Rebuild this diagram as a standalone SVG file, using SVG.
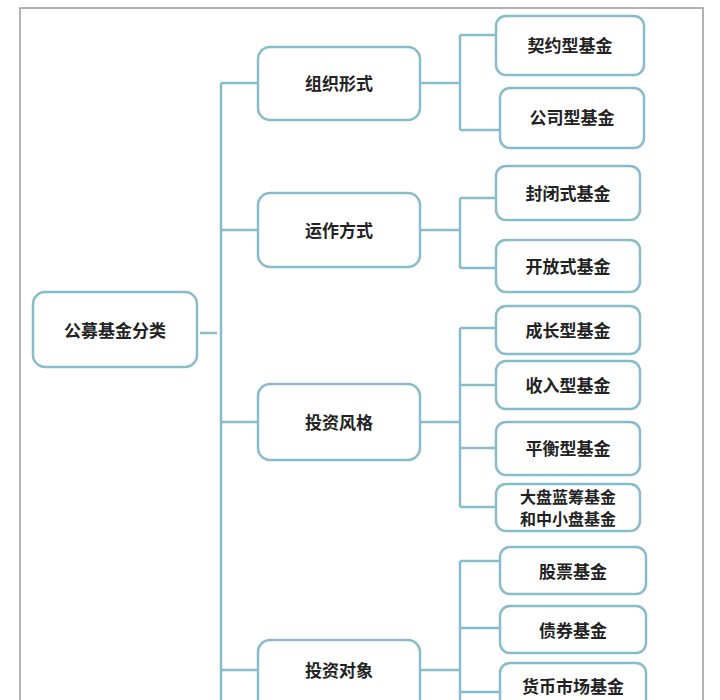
<svg xmlns="http://www.w3.org/2000/svg" width="720" height="700" viewBox="0 0 720 700">
<style>
.n{fill:#fff;stroke:#86bccb;stroke-width:2.5}
.c{fill:none;stroke:#86bccb;stroke-width:2.5}
text{font-family:"Noto Sans CJK SC","Liberation Sans",sans-serif;font-weight:bold;font-size:17px;fill:#222;text-anchor:middle;dominant-baseline:central}
.s{font-size:16px}
</style>
<rect width="720" height="700" fill="#fff"/>
<path d="M20 720V8H703V720" fill="none" stroke="#999" stroke-width="1.5"/>
<g id="connectors">
<path class="c" d="M200 333H217M221 83V710M221 83H258M221 230H258M221 422H258M221 670H258"/>
<path class="c" d="M420 83H460M460 35V130M460 35H496M460 130H500"/>
<path class="c" d="M420 230H460M460 198V268M460 198H496M460 268H496"/>
<path class="c" d="M420 422H460M460 328V507M460 328H496M460 385H496M460 448H496M460 507H496"/>
<path class="c" d="M420 670H460M460 561V710M460 561H500M460 628H500M460 692H500"/>
</g>
<g id="root"><rect class="n" x="33" y="292" width="164" height="75" rx="12"/><text x="115" y="329">公募基金分类</text></g>
<g id="l1a"><rect class="n" x="258" y="47" width="162" height="73" rx="12"/><text x="339" y="82">组织形式</text></g>
<g id="l1b"><rect class="n" x="258" y="193" width="162" height="74" rx="12"/><text x="339" y="229">运作方式</text></g>
<g id="l1c"><rect class="n" x="258" y="384" width="162" height="76" rx="12"/><text x="339" y="421">投资风格</text></g>
<g id="l1d"><rect class="n" x="258" y="640" width="162" height="80" rx="12"/><text x="339" y="669">投资对象</text></g>
<g id="a1"><rect class="n" x="496" y="16" width="148" height="59" rx="10"/><text x="570" y="44">契约型基金</text></g>
<g id="a2"><rect class="n" x="500" y="88" width="144" height="60" rx="10"/><text x="572" y="116">公司型基金</text></g>
<g id="b1"><rect class="n" x="496" y="166" width="144" height="54" rx="10"/><text x="568" y="192">封闭式基金</text></g>
<g id="b2"><rect class="n" x="496" y="240" width="144" height="52" rx="10"/><text x="568" y="265">开放式基金</text></g>
<g id="c1"><rect class="n" x="496" y="306" width="144" height="48" rx="10"/><text x="568" y="329">成长型基金</text></g>
<g id="c2"><rect class="n" x="496" y="361" width="144" height="48" rx="10"/><text x="568" y="384">收入型基金</text></g>
<g id="c3"><rect class="n" x="496" y="422" width="144" height="53" rx="10"/><text x="568" y="447">平衡型基金</text></g>
<g id="c4"><rect class="n" x="496" y="484" width="144" height="47" rx="10"/><text class="s" x="568" y="496">大盘蓝筹基金</text><text class="s" x="568" y="518">和中小盘基金</text></g>
<g id="d1"><rect class="n" x="500" y="547" width="146" height="47" rx="10"/><text x="573" y="570">股票基金</text></g>
<g id="d2"><rect class="n" x="500" y="606" width="146" height="47" rx="10"/><text x="573" y="629">债券基金</text></g>
<g id="d3"><rect class="n" x="500" y="663" width="146" height="60" rx="10"/><text x="573" y="685">货币市场基金</text></g>
</svg>
